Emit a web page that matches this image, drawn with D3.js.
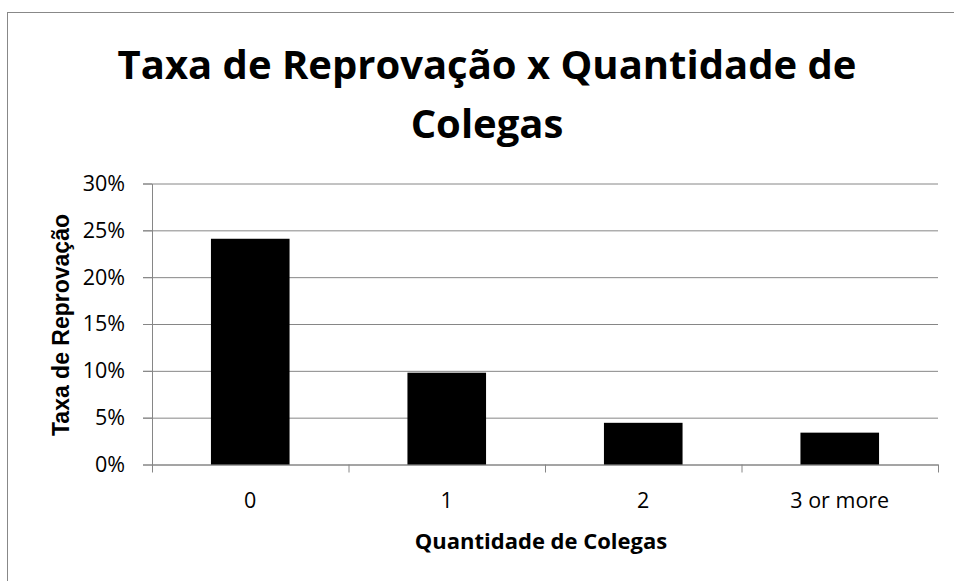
<!DOCTYPE html>
<html>
<head>
<meta charset="utf-8">
<script src="https://cdn.jsdelivr.net/npm/d3@7"></script>
<style>
  body { margin: 0; background: #fff; }
  .tick line, .domain { stroke: #868686; }
  .lbl text { font-family: 'Open Sans', sans-serif; font-size: 21.5px; fill: #000; }
</style>
</head>
<body>
<script>
const titleLines = ['Taxa de Reprovação x Quantidade de', 'Colegas'];
const categories = ['0', '1', '2', '3 or more'];
const rates = [0.241, 0.098, 0.0445, 0.034];
const yTicks = [0, 0.05, 0.10, 0.15, 0.20, 0.25, 0.30];

const width = 954;
const height = 581;
const plotLeft = 152, plotRight = 938, plotTop = 183.5, plotBottom = 464.5;

const svg = d3.select('body').append('svg')
  .attr('width', width)
  .attr('height', height);

// chart frame, right and bottom edges fall outside the picture
svg.append('rect')
  .attr('x', 7.5).attr('y', 12.5)
  .attr('width', 970).attr('height', 600)
  .attr('fill', '#fff')
  .attr('stroke', '#888');

const xScale = d3.scaleBand().domain(categories).range([plotLeft, plotRight])
  .paddingInner(0.6).paddingOuter(0.3);
const xEdges = d3.scaleLinear().domain([0, categories.length]).range([plotLeft, plotRight]);
const yScale = d3.scaleLinear().domain([0, 0.3]).range([plotBottom, plotTop]);

// gridlines
svg.append('g')
  .attr('transform', `translate(${plotRight}, 0)`)
  .call(d3.axisLeft(yScale).tickValues(yTicks).tickSize(plotRight - plotLeft + 9).tickFormat(''))
  .call(g => g.select('.domain').remove());

// y axis
svg.append('g')
  .attr('class', 'lbl')
  .attr('transform', `translate(${plotLeft}, 0)`)
  .call(d3.axisLeft(yScale).tickValues(yTicks).tickSize(9).tickSizeOuter(0).tickPadding(18)
    .tickFormat(d3.format('.0%')));

// x axis: tick marks between categories
svg.append('g')
  .attr('transform', `translate(0, ${plotBottom})`)
  .call(d3.axisBottom(xEdges).tickValues(d3.range(categories.length + 1)).tickSize(8).tickSizeOuter(0).tickFormat(''));

svg.append('g')
  .attr('class', 'lbl')
  .attr('transform', `translate(0, ${plotBottom})`)
  .call(d3.axisBottom(xScale).tickSize(0).tickPadding(28))
  .call(g => g.select('.domain').remove());

// bars
svg.append('g')
  .selectAll('rect')
  .data(rates)
  .enter()
  .append('rect')
  .attr('x', (d, i) => xScale(categories[i]))
  .attr('y', (d) => yScale(d))
  .attr('width', xScale.bandwidth())
  .attr('height', (d) => yScale(0) - yScale(d))
  .attr('fill', '#000');

// titles
svg.append('text')
  .attr('x', 487).attr('y', 79)
  .attr('text-anchor', 'middle')
  .style('font-family', 'Open Sans, sans-serif')
  .style('font-weight', 'bold')
  .style('font-size', '40px')
  .selectAll('tspan')
  .data(titleLines)
  .enter()
  .append('tspan')
  .attr('x', 487)
  .attr('dy', (d, i) => i === 0 ? 0 : 59)
  .text((d) => d);

svg.append('text')
  .attr('x', 541).attr('y', 549)
  .attr('text-anchor', 'middle')
  .style('font-family', 'Open Sans, sans-serif')
  .style('font-weight', 'bold')
  .style('font-size', '22px')
  .text('Quantidade de Colegas');

svg.append('text')
  .attr('transform', 'translate(69, 325) rotate(-90)')
  .attr('text-anchor', 'middle')
  .style('font-family', 'Liberation Sans, Arial, sans-serif')
  .style('font-weight', 'bold')
  .style('font-size', '23px')
  .text('Taxa de Reprovação');
</script>
</body>
</html>
